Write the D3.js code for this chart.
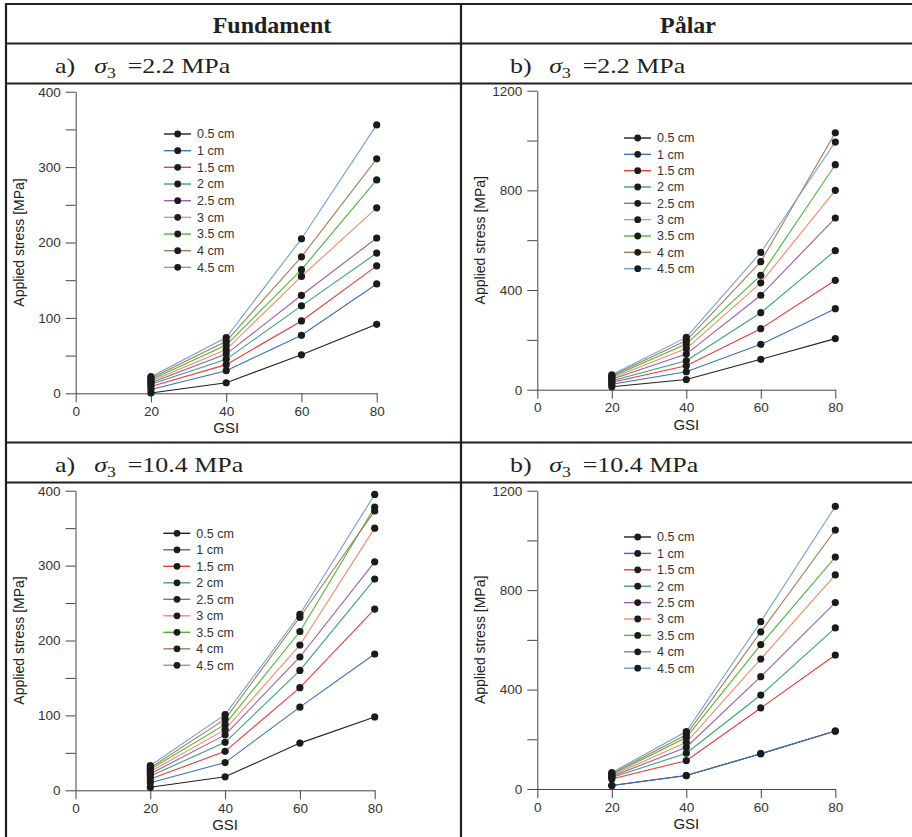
<!DOCTYPE html>
<html>
<head>
<meta charset="utf-8">
<script src="https://cdn.jsdelivr.net/npm/d3@7"></script>
<style>
  body { margin: 0; background: #fff; }
  svg { display: block; }
  .tick text { font-family: "Liberation Sans", Arial, sans-serif; }
</style>
</head>
<body>
<svg id="chart" width="912" height="837"></svg>
<script>
// Series: pad thickness, one line per size
const sizes = ["0.5 cm", "1 cm", "1.5 cm", "2 cm", "2.5 cm", "3 cm", "3.5 cm", "4 cm", "4.5 cm"];
const seriesColors = ["#231f20", "#3b6fc1", "#ee3b36", "#3aa278", "#9a5db0", "#f58a64", "#4cb735", "#a67c5b", "#6e9fdc"];
const gsi = [20, 40, 60, 80];
const gsiTicks = [0, 20, 40, 60, 80];

// Applied stress [MPa] per size (rows) at GSI 20, 40, 60, 80
const fundament22 = [
  [0.5, 14, 51, 91.5],
  [5, 30, 77, 145],
  [9, 38, 96, 169],
  [12, 45, 116, 186],
  [14, 52, 130, 206],
  [16, 58, 155, 246],
  [18, 64, 164, 283],
  [20, 69, 181, 311],
  [22, 74, 205, 356]
];
const palar22 = [
  [12, 41, 122, 205],
  [22, 72, 182, 325],
  [30, 96, 245, 439],
  [36, 116, 309, 558],
  [42, 143, 379, 689],
  [47, 165, 429, 800],
  [52, 183, 459, 903],
  [56, 197, 514, 1031],
  [60, 210, 551, 994]
];
const fundament104 = [
  [4, 18, 63, 98],
  [10, 37, 111, 182],
  [15, 52, 137, 242],
  [19, 64, 160, 282],
  [22, 74, 178, 305],
  [25, 81, 194, 350],
  [28, 88, 212, 378],
  [30, 95, 231, 373],
  [33, 101, 235, 395]
];
const palar104 = [
  [14, 54, 142, 233],
  [14, 54, 142, 233],
  [40, 114, 326, 539],
  [46, 144, 378, 648],
  [50, 168, 452, 750],
  [54, 188, 523, 861],
  [58, 207, 581, 933],
  [62, 218, 632, 1042],
  [66, 231, 673, 1137]
];

// Axis ticks (every tick drawn, only labelled ones get text)
const fundamentTicks = [0, 50, 100, 150, 200, 250, 300, 350, 400];
const fundamentLabels = [0, 100, 200, 300, 400];
const palarTicks = [0, 200, 400, 600, 800, 1000, 1200];
const palarLabels = [0, 400, 800, 1200];

// Table headings
const columnTitles = ["Fundament", "Pålar"];
const panelLetters = ["a)", "b)"];
const confining = ["2.2", "10.4"];

const svg = d3.select("#chart");
const sans = '"Liberation Sans", Arial, sans-serif';
const serif = '"Liberation Serif", "Times New Roman", serif';

const panels = [
  { data: fundament22, ticks: fundamentTicks, labels: fundamentLabels, max: 400,
    x: [75.7, 376.7], y: [393.3, 91.7], legend: [164, 134, 16.67] },
  { data: palar22, ticks: palarTicks, labels: palarLabels, max: 1200,
    x: [537.3, 835.3], y: [389.7, 90.7], legend: [624, 138, 16.33] },
  { data: fundament104, ticks: fundamentTicks, labels: fundamentLabels, max: 400,
    x: [75.5, 374.7], y: [790.3, 490.7], legend: [163.3, 533.3, 16.5] },
  { data: palar104, ticks: palarTicks, labels: palarLabels, max: 1200,
    x: [537.3, 835.3], y: [789, 490.7], legend: [624, 537, 16.4] }
];

panels.forEach(p => {
  const x = d3.scaleLinear().domain([0, 80]).range(p.x);
  const y = d3.scaleLinear().domain([0, p.max]).range(p.y);
  const g = svg.append("g");

  // y axis
  const ya = g.append("g")
    .attr("transform", `translate(${p.x[0]},0)`)
    .call(d3.axisLeft(y).tickValues(p.ticks).tickSize(10).tickPadding(5).tickSizeOuter(0)
      .tickFormat(d => p.labels.includes(d) ? d : ""));
  // x axis
  const xa = g.append("g")
    .attr("transform", `translate(0,${p.y[0]})`)
    .call(d3.axisBottom(x).tickValues(gsiTicks).tickSize(9).tickPadding(4).tickSizeOuter(0));
  [ya, xa].forEach(a => {
    a.select(".domain").attr("stroke", "#444").attr("stroke-width", 1);
    a.selectAll(".tick line").attr("stroke", "#444").attr("stroke-width", 1);
    a.selectAll(".tick text").attr("fill", "#333").style("font-size", "13.5px");
  });

  // axis titles
  g.append("text")
    .attr("transform", `translate(${p.x[0] - 52},${(p.y[0] + p.y[1]) / 2}) rotate(-90)`)
    .attr("text-anchor", "middle")
    .attr("font-family", sans).attr("font-size", 14).attr("fill", "#222")
    .text("Applied stress [MPa]");
  g.append("text")
    .attr("x", x(40)).attr("y", p.y[0] + 40)
    .attr("text-anchor", "middle")
    .attr("font-family", sans).attr("font-size", 15).attr("fill", "#222")
    .text("GSI");

  // series lines, then markers on top
  const line = d3.line().x((d, i) => x(gsi[i])).y(d => y(d));
  p.data.forEach((row, s) => {
    g.append("path").datum(row)
      .attr("d", line).attr("fill", "none")
      .attr("stroke", seriesColors[s]).attr("stroke-width", 1.1);
  });
  p.data.forEach(row => {
    g.selectAll(null).data(row).enter().append("circle")
      .attr("cx", (d, i) => x(gsi[i])).attr("cy", d => y(d))
      .attr("r", 3.6).attr("fill", "#1b1b1b");
  });

  // legend
  const [lx, ly, ls] = p.legend;
  sizes.forEach((name, s) => {
    const yy = ly + s * ls;
    g.append("line").attr("x1", lx).attr("x2", lx + 27).attr("y1", yy).attr("y2", yy)
      .attr("stroke", seriesColors[s]).attr("stroke-width", 1.4);
    g.append("circle").attr("cx", lx + 13.7).attr("cy", yy).attr("r", 3.4).attr("fill", "#1b1b1b");
    g.append("text").attr("x", lx + 33).attr("y", yy).attr("dy", "0.35em")
      .attr("font-family", sans).attr("font-size", 12.5).attr("fill", "#333")
      .text(name);
  });
});

// table frame
const tableColor = "#231f20";
const cols = [6, 461];
[4, 43.5, 83.5, 442.5, 482.5].forEach(yy => {
  svg.append("line").attr("x1", 5).attr("x2", 912).attr("y1", yy).attr("y2", yy)
    .attr("stroke", tableColor).attr("stroke-width", 2.2);
});
cols.forEach(xx => {
  svg.append("line").attr("x1", xx).attr("x2", xx).attr("y1", 3).attr("y2", 837)
    .attr("stroke", tableColor).attr("stroke-width", 2.2);
});

// column headings
const headCenters = [272, 688];
columnTitles.forEach((t, i) => {
  svg.append("text").attr("x", headCenters[i]).attr("y", 33)
    .attr("text-anchor", "middle")
    .attr("font-family", serif).attr("font-weight", "bold").attr("font-size", 24)
    .attr("fill", tableColor).text(t);
});

// sub-headings: panel letter and confining stress (wide-set serif)
const rowBaselines = [72.5, 471.5];
rowBaselines.forEach((by, r) => {
  cols.forEach((cx, c) => {
    const t = svg.append("text")
      .attr("transform", `translate(${cx + 49},${by}) scale(1.18,1)`)
      .attr("font-family", serif).attr("font-size", 22).attr("fill", tableColor);
    t.append("tspan").attr("x", 0).text(panelLetters[c]);
    t.append("tspan").attr("x", 33.3).attr("font-style", "italic").text("σ");
    t.append("tspan").attr("font-size", 15).attr("dy", 5).text("3");
    t.append("tspan").attr("x", 61.6).attr("dy", -5).text(`=${confining[r]} MPa`);
  });
});
</script>
</body>
</html>
